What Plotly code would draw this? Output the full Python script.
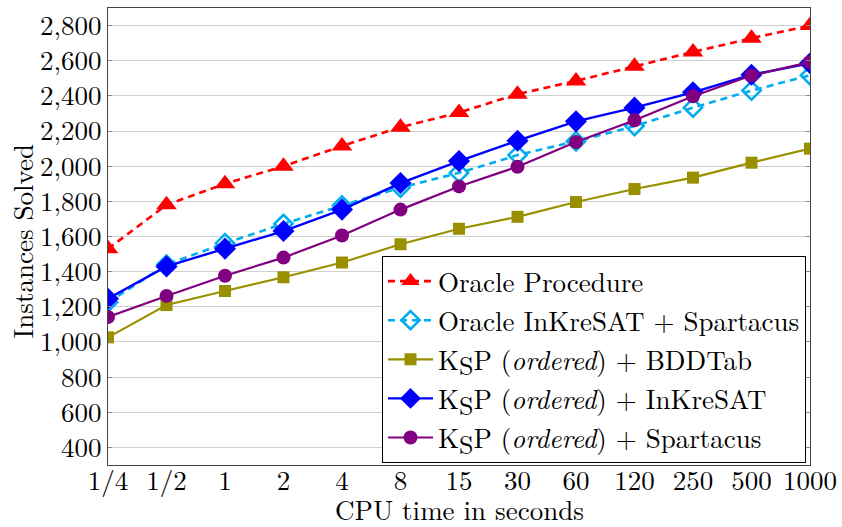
import plotly.graph_objects as go

categories = ["1/4", "1/2", "1", "2", "4", "8", "15", "30", "60", "120", "250", "500", "1000"]

oracle_procedure = [1530, 1780, 1900, 2000, 2115, 2222, 2305, 2410, 2485, 2568, 2650, 2728, 2800]
oracle_inkresat_spartacus = [1225, 1440, 1562, 1672, 1776, 1878, 1962, 2063, 2142, 2228, 2333, 2430, 2517]
ksp_bddtab = [1026, 1210, 1290, 1368, 1452, 1556, 1644, 1712, 1796, 1870, 1935, 2020, 2100]
ksp_inkresat = [1246, 1430, 1531, 1631, 1753, 1904, 2029, 2145, 2255, 2333, 2420, 2520, 2586]
ksp_spartacus = [1142, 1262, 1377, 1480, 1606, 1753, 1885, 1997, 2138, 2261, 2398, 2516, 2592]

KSP = "K<sub><span style='font-size:26px'>S</span></sub>P"
names = [
    "Oracle Procedure",
    "Oracle InKreSAT + Spartacus",
    KSP + " (<i>ordered</i>) + BDDTab",
    KSP + " (<i>ordered</i>) + InKreSAT",
    KSP + " (<i>ordered</i>) + Spartacus",
]
x_title = "CPU time in seconds"
y_title = "Instances Solved"

FONT = "Latin Modern Roman"
FS = 27

fig = go.Figure()

styles = [
    dict(data=oracle_procedure, color="#FF0000", dash="7px,5px", symbol="triangle-up", size=18, lw=2.6),
    dict(data=oracle_inkresat_spartacus, color="#00AEEF", dash="7px,5px", symbol="diamond-open", size=14, lw=2.6),
    dict(data=ksp_bddtab, color="#999000", dash="solid", symbol="square", size=12, lw=2.2),
    dict(data=ksp_inkresat, color="#0000FF", dash="solid", symbol="diamond", size=17, lw=2.4),
    dict(data=ksp_spartacus, color="#800080", dash="solid", symbol="circle", size=14, lw=2.2),
]

for i, (name, st) in enumerate(zip(names, styles)):
    marker = dict(symbol=st["symbol"], size=st["size"], color=st["color"])
    if st["symbol"] == "diamond-open":
        marker["line"] = dict(width=2.6, color=st["color"])
    else:
        marker["line"] = dict(width=0)
    fig.add_trace(go.Scatter(
        x=categories, y=st["data"], name=name, mode="lines+markers",
        line=dict(color=st["color"], width=st["lw"], dash=st["dash"]),
        marker=marker, legendgroup=f"g{i}",
    ))

fig.add_annotation(text=x_title, xref="paper", yref="paper", x=0.5, y=-0.097,
                   xanchor="center", yanchor="middle", showarrow=False,
                   font=dict(family=FONT, size=FS, color="black"))
fig.add_annotation(text=y_title, xref="paper", yref="paper", x=-0.122, y=0.49,
                   xanchor="center", yanchor="middle", showarrow=False, textangle=-90,
                   font=dict(family=FONT, size=FS, color="black"))

fig.update_layout(
    width=842, height=527,
    margin=dict(l=108, r=29, t=5, b=62),
    paper_bgcolor="white", plot_bgcolor="white",
    font=dict(family=FONT, size=FS, color="black"),
    showlegend=True,
    legend=dict(
        x=0.9943, y=0.0043, xanchor="right", yanchor="bottom",
        bgcolor="white", bordercolor="black", borderwidth=1,
        font=dict(family=FONT, size=FS, color="black"),
        tracegroupgap=1, itemwidth=45,
    ),
    xaxis=dict(
        type="category", range=[0, 12],
        showgrid=False, showline=True, linecolor="#444", linewidth=1.2, mirror=True,
        ticks="", tickfont=dict(family=FONT, size=FS), ticklabelstandoff=-9,
    ),
    yaxis=dict(
        range=[300, 2900],
        tickvals=list(range(400, 2801, 200)), tickformat=",",
        showgrid=True, gridcolor="#d0d0d0", gridwidth=1,
        showline=True, linecolor="#444", linewidth=1.2, mirror="allticks",
        ticks="inside", ticklen=4, tickcolor="#888", zeroline=False,
        tickfont=dict(family=FONT, size=FS),
    ),
)

fig.write_html("out.html")
